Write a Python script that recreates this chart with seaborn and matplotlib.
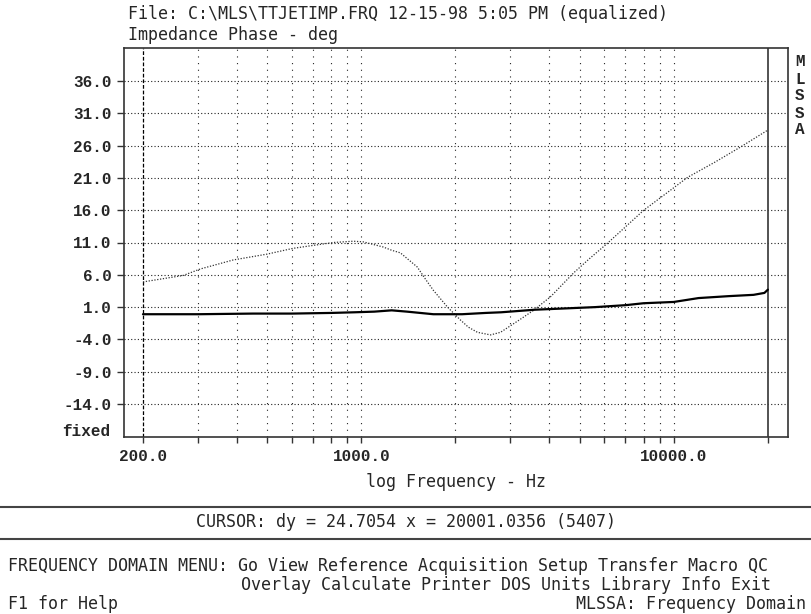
import numpy as np
import matplotlib
matplotlib.use("Agg")
import matplotlib.pyplot as plt
from matplotlib.lines import Line2D
import seaborn as sns

# --------------------------------------------------------------
# Data
# --------------------------------------------------------------

phase_freq = [200, 269, 305, 389, 499, 605, 813, 942, 1014, 1175, 1250, 1333,
              1510, 1600, 1700, 1887, 2076, 2200, 2353, 2590, 2788, 3200, 3557,
              4031, 4780, 5400, 6138, 8015, 11083, 13500, 16380, 20000]
phase_deg = [4.9, 5.9, 6.9, 8.3, 9.2, 10.1, 11.0, 11.2, 11.1, 10.3, 9.8, 9.4,
             7.2, 5.4, 3.6, 1.0, -1.0, -2.1, -2.9, -3.3, -2.9, -1.0, 0.5,
             2.6, 6.3, 8.6, 10.9, 16.0, 21.1, 23.4, 25.8, 28.4]

solid_freq = [200, 300, 450, 600, 800, 950, 1100, 1250, 1400, 1700, 2100, 2500,
              2800, 3600, 4500, 5600, 7000, 8000, 10000, 12000, 15000, 18000,
              19500, 20000]
solid_deg = [-0.1, -0.1, 0.0, 0.0, 0.1, 0.2, 0.3, 0.5, 0.3, -0.1, -0.1, 0.1,
             0.2, 0.6, 0.8, 1.0, 1.3, 1.6, 1.8, 2.4, 2.7, 2.9, 3.2, 3.7]

y_ticks = [36.0, 31.0, 26.0, 21.0, 16.0, 11.0, 6.0, 1.0, -4.0, -9.0, -14.0]
x_ticks = [200, 300, 400, 500, 600, 700, 800, 900, 1000, 2000, 3000, 4000,
           5000, 6000, 7000, 8000, 9000, 10000, 20000]
x_labeled = {200: "200.0", 1000: "1000.0", 10000: "10000.0"}

title_1 = "File: C:\\MLS\\TTJETIMP.FRQ 12-15-98 5:05 PM (equalized)"
title_2 = "Impedance Phase - deg"
cursor_text = "CURSOR: dy = 24.7054 x = 20001.0356 (5407)"
menu_1 = "FREQUENCY DOMAIN MENU: Go View Reference Acquisition Setup Transfer Macro QC"
menu_2 = "Overlay Calculate Printer DOS Units Library Info Exit"

# --------------------------------------------------------------
# Figure
# --------------------------------------------------------------

sns.set_style("ticks")
plt.rcParams["font.family"] = ["DejaVu Sans Mono"]

W, H = 811, 614
fig = plt.figure(figsize=(W / 100, H / 100), dpi=100)
fig.patch.set_facecolor("white")

left, right, top, bottom = 124, 788, 48, 437
ax = fig.add_axes([left / W, 1 - bottom / H, (right - left) / W, (bottom - top) / H])
ax.set_xscale("log")
ax.set_xlim(173.9, 23200)
ax.set_ylim(-19.1, 41.1)

# grid
for yv in y_ticks:
    ax.axhline(yv, color="#222222", lw=0.8, ls=(0, (1, 2)), zorder=1)
for xv in x_ticks[1:-1]:
    ax.axvline(xv, color="#222222", lw=0.8, ls=(0, (1, 5)), zorder=1)
ax.axvline(200, color="black", lw=0.9, ls=(0, (3, 1.5)), zorder=2)
ax.axvline(20000, color="#444444", lw=1.3, zorder=2)

# curves
sns.lineplot(x=phase_freq, y=phase_deg, ax=ax, color="#333333", lw=0.9,
             linestyle=(0, (1, 1.3)), zorder=3)
sns.lineplot(x=solid_freq, y=solid_deg, ax=ax, color="black", lw=1.6, zorder=4)

# ticks
ax.set_yticks(y_ticks)
ax.set_yticklabels([f"{v:.1f}" for v in y_ticks])
ax.set_xticks(x_ticks)
ax.set_xticklabels([x_labeled.get(v, "") for v in x_ticks])
ax.xaxis.set_minor_locator(matplotlib.ticker.NullLocator())
ax.tick_params(axis="y", direction="out", length=5, width=1.0, pad=4, color="#333333")
ax.tick_params(axis="x", direction="out", length=4.5, width=1.0, pad=4, color="#333333")
for lab in ax.get_xticklabels() + ax.get_yticklabels():
    lab.set_fontfamily("Liberation Mono")
    lab.set_fontweight("bold")
    lab.set_fontsize(11.5)

for sp in ax.spines.values():
    sp.set_visible(True)
    sp.set_color("#333333")
    sp.set_linewidth(1.2)

ax.set_xlabel("log Frequency - Hz", fontsize=12, labelpad=6.5)
ax.set_ylabel("")

# --------------------------------------------------------------
# Screen texts
# --------------------------------------------------------------

fig.text(128 / W, 1 - 14 / H, title_1, fontsize=12, va="center", ha="left")
fig.text(128 / W, 1 - 35 / H, title_2, fontsize=12, va="center", ha="left")

fig.text(110 / W, 1 - 432 / H, "fixed", fontsize=11.5, fontweight="bold",
         family="Liberation Mono", ha="right", va="center")

for i, ch in enumerate("MLSSA"):
    fig.text(800 / W, 1 - (62 + 17 * i) / H, ch, fontsize=11.5, fontweight="bold",
             family="Liberation Mono", ha="center", va="center")

for yy in (507, 539):
    fig.add_artist(Line2D([0, 1], [1 - yy / H, 1 - yy / H], color="#444444", lw=1.5))
fig.text(0.5, 1 - 522 / H, cursor_text, fontsize=12, ha="center", va="center")

fig.text(8 / W, 1 - 566 / H, menu_1, fontsize=12, ha="left", va="center")
fig.text(241 / W, 1 - 585 / H, menu_2, fontsize=12, ha="left", va="center")
fig.text(8 / W, 1 - 604 / H, "F1 for Help", fontsize=12, ha="left", va="center")
fig.text(806 / W, 1 - 604 / H, "MLSSA: Frequency Domain", fontsize=12, ha="right", va="center")

fig.savefig("out.png", dpi=100, facecolor="white")
